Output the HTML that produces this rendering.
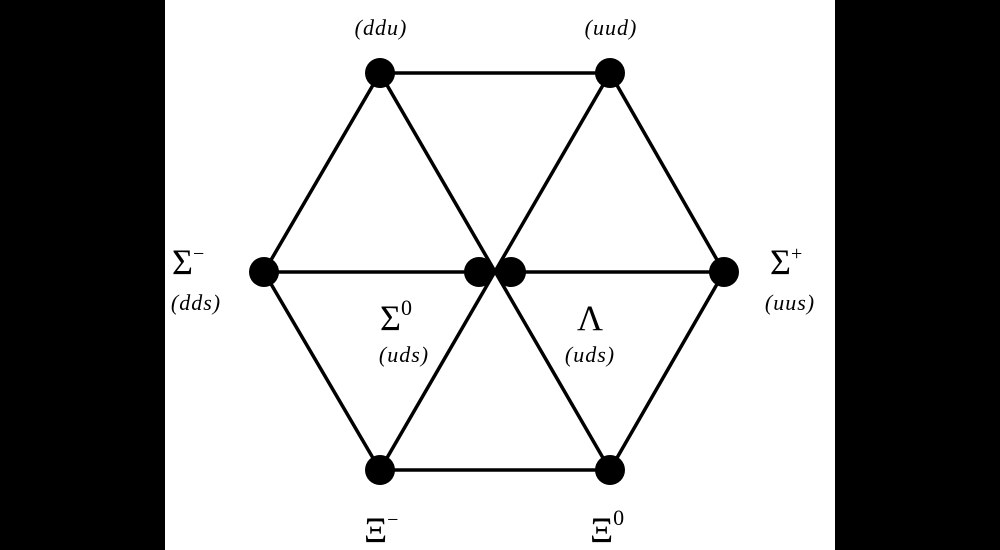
<!DOCTYPE html>
<html><head><style>
body{margin:0;width:1000px;height:550px;background:#000;overflow:hidden}
svg{display:block}
text{font-family:"Liberation Serif",serif;fill:#000}
.i{font-style:italic;font-size:22px;letter-spacing:1px}
.b{font-size:36px}
</style></head><body>
<svg width="1000" height="550" viewBox="0 0 1000 550">
<rect x="165" y="0" width="670" height="550" fill="#fff"/>
<g stroke="#000" stroke-width="3.5" fill="none">
<polygon points="380,73 610,73 724,272 610,470 380,470 264,272"/>
<line x1="264" y1="272" x2="724" y2="272"/>
<line x1="380" y1="73" x2="610" y2="470"/>
<line x1="610" y1="73" x2="380" y2="470"/>
</g>
<g fill="#000">
<circle cx="380" cy="73" r="15"/><circle cx="610" cy="73" r="15"/>
<circle cx="264" cy="272" r="15"/><circle cx="724" cy="272" r="15"/>
<circle cx="479" cy="272" r="15"/><circle cx="511" cy="272" r="15"/>
<circle cx="380" cy="470" r="15"/><circle cx="610" cy="470" r="15"/>
</g>
<text class="i" x="381" y="35" text-anchor="middle">(ddu)</text>
<text class="i" x="611" y="35" text-anchor="middle">(uud)</text>
<text class="b" x="172" y="274">Σ<tspan font-size="20" dy="-14">−</tspan></text>
<text class="i" x="196" y="310" text-anchor="middle">(dds)</text>
<text class="b" x="770" y="274">Σ<tspan font-size="20" dy="-14">+</tspan></text>
<text class="i" x="790" y="310" text-anchor="middle">(uus)</text>
<text class="b" x="380" y="330">Σ<tspan font-size="22" dy="-15">0</tspan></text>
<text class="i" x="404" y="362" text-anchor="middle">(uds)</text>
<text class="b" x="590" y="330" text-anchor="middle">Λ</text>
<text class="i" x="590" y="362" text-anchor="middle">(uds)</text>
<text class="b" x="364" y="542">Ξ<tspan font-size="20" dy="-16">−</tspan></text>
<text class="b" x="590" y="542">Ξ<tspan font-size="22" dy="-17">0</tspan></text>
</svg>
</body></html>
